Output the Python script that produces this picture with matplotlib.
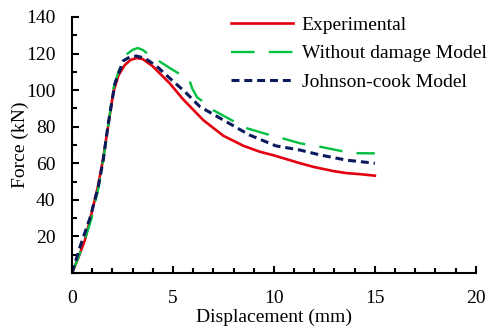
import numpy as np
import matplotlib.pyplot as plt
from matplotlib.ticker import MultipleLocator

plt.rcParams['font.family'] = ['Liberation Serif', 'DejaVu Serif']

# Experimental
x_exp = [0, 0.3, 0.64, 1.0, 1.3, 1.55, 1.8, 2.05, 2.3, 2.6, 2.9, 3.2, 3.5, 4.0, 4.85,
         5.5, 6.5, 7.5, 8.5, 9.3, 10.0, 10.6, 11.3, 12.0, 13.0, 13.6, 14.3, 15.0]
y_exp = [0, 8, 18, 34, 48, 63, 81, 99, 108, 113.5, 116.5, 117.5, 117, 113, 103.6,
         95, 83.6, 75, 69.5, 66.3, 64.3, 62.3, 60, 57.9, 55.6, 54.6, 54, 53.2]

# Without damage model
x_wdm = [0, 0.3, 0.6, 0.97, 1.3, 1.55, 1.8, 2.05, 2.3, 2.7, 3.0, 3.25, 3.5, 3.8, 4.36,
         4.85, 5.3, 5.8, 5.95, 6.2, 6.5, 7.0, 8.0, 8.7, 9.8, 10.5, 11.3, 12.3, 13.5, 14.1, 15.0]
y_wdm = [0, 8, 17, 30, 46, 62, 81, 101, 110, 119.5, 122, 123, 122, 119.5, 115.5,
         112, 109, 106, 101, 96, 93.6, 89, 83, 79, 75.4, 73.4, 70.9, 69, 66.3, 65.5, 65.4]

# Johnson-cook model
x_jc = [0, 0.4, 0.89, 1.3, 1.55, 1.8, 2.13, 2.54, 2.9, 3.2, 3.6, 4.2, 4.85,
        5.6, 6.34, 7.5, 8.8, 10.1, 11.3, 12.3, 13.6, 15.0]
y_jc = [0, 14.4, 30, 47, 62, 82, 103.7, 116, 118.3, 118.6, 117.5, 113, 106.4,
        99, 90.9, 83.6, 75.4, 69.5, 67.2, 64.5, 61.7, 60]

fig = plt.figure(figsize=(4.88, 3.26), dpi=100)
ax = fig.add_axes([0.1475, 0.1626, 0.8275, 0.7855])

ax.plot(x_exp, y_exp, color='#e3000f', lw=1.9, label='Experimental')
ax.plot(x_wdm, y_wdm, color='#00c040', lw=1.7, dashes=(10, 6), label='Without damage Model')
ax.plot(x_jc, y_jc, color='#0a1a5c', lw=2.2, dashes=(2.6, 1.6), label='Johnson-cook Model')

ax.set_xlim(0, 20)
ax.set_ylim(0, 140)
ax.xaxis.set_major_locator(MultipleLocator(5))
ax.xaxis.set_minor_locator(MultipleLocator(1))
ax.yaxis.set_major_locator(MultipleLocator(20))
ax.yaxis.set_minor_locator(MultipleLocator(10))
ax.set_yticks([20, 40, 60, 80, 100, 120, 140])

for s in ['top', 'right']:
    ax.spines[s].set_visible(False)
for s in ['left', 'bottom']:
    ax.spines[s].set_linewidth(1.5)

ax.tick_params(which='major', direction='in', length=5, width=1.5, labelsize=14, pad=12)
ax.tick_params(which='minor', direction='in', length=3.5, width=1.5)

ax.set_xlabel('Displacement (mm)', fontsize=14)
ax.set_ylabel('Force (kN)', fontsize=14)
ax.xaxis.set_label_coords(0.5, -0.138)
ax.yaxis.set_label_coords(-0.107, 0.5)

ax.legend(loc='upper right', bbox_to_anchor=(1.07, 1.07), frameon=False, fontsize=14,
          handlelength=3.2, handletextpad=0.45, labelspacing=0.55)

fig.savefig('out.png', dpi=100)
